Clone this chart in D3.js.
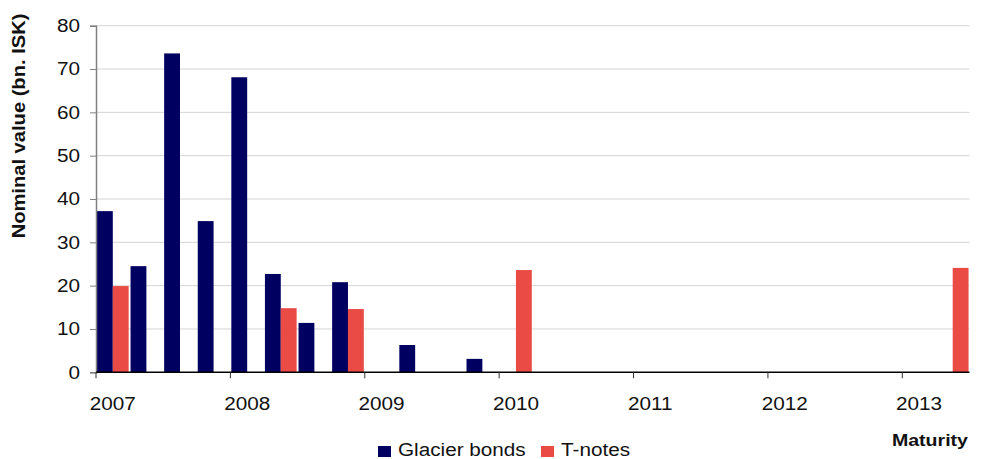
<!DOCTYPE html>
<html>
<head>
<meta charset="utf-8">
<script src="https://cdn.jsdelivr.net/npm/d3@7"></script>
<style>
  html, body { margin: 0; padding: 0; background: #fff; }
  svg { display: block; font-family: "Liberation Sans", Arial, sans-serif; }
</style>
</head>
<body>
<svg id="chart" width="983" height="459"></svg>
<script>
// Quarterly maturity buckets, 2007 Q1 through 2013 Q2
const quarters = [];
for (let yr = 2007; yr <= 2013; yr++) {
  for (let q = 1; q <= 4; q++) {
    if (yr === 2013 && q > 2) break;
    quarters.push(yr + "Q" + q);
  }
}
const seriesNames = ["Glacier bonds", "T-notes"];
const seriesColors = ["#000060", "#EA4B45"];

// Nominal value in bn. ISK maturing per quarter
const glacierBonds = {
  "2007Q1": 37.2, "2007Q2": 24.5, "2007Q3": 73.6, "2007Q4": 34.9,
  "2008Q1": 68.1, "2008Q2": 22.7, "2008Q3": 11.4, "2008Q4": 20.8,
  "2009Q2": 6.3, "2009Q4": 3.1
};
const tNotes = {
  "2007Q1": 19.9, "2008Q2": 14.8, "2008Q4": 14.6,
  "2010Q1": 23.6, "2013Q2": 24.1
};
const yTicks = [0, 10, 20, 30, 40, 50, 60, 70, 80];
const yearLabels = ["2007", "2008", "2009", "2010", "2011", "2012", "2013"];

const svg = d3.select("#chart");
const plotLeft = 96, plotRight = 969.5, plotTop = 25.7, plotBottom = 372.3;

// Widen the glyphs a little so labels keep the wide set of the original typeface
function widen(sel, k = 1.15) {
  sel.each(function () {
    const L = this.getComputedTextLength();
    d3.select(this).attr("textLength", L * k).attr("lengthAdjust", "spacingAndGlyphs");
  });
}

const x = d3.scaleBand().domain(quarters).range([plotLeft, plotRight]).padding(0);
const xs = d3.scaleBand().domain(seriesNames).range([0, x.bandwidth()])
  .paddingInner(0).paddingOuter(0.06);
const y = d3.scaleLinear().domain([0, 80]).range([plotBottom, plotTop]);

// Horizontal gridlines
svg.append("g").selectAll("line")
  .data(yTicks.filter(d => d > 0))
  .join("line")
  .attr("x1", plotLeft).attr("x2", plotRight)
  .attr("y1", d => y(d)).attr("y2", d => y(d))
  .attr("stroke", "#d4d4d4").attr("stroke-width", 1);

// Bars
const rows = quarters.map(q => ({
  q,
  vals: [
    { s: seriesNames[0], v: glacierBonds[q] },
    { s: seriesNames[1], v: tNotes[q] }
  ].filter(d => d.v != null)
}));
const color = d3.scaleOrdinal().domain(seriesNames).range(seriesColors);

svg.append("g").selectAll("g")
  .data(rows)
  .join("g")
  .attr("transform", d => `translate(${x(d.q)},0)`)
  .selectAll("rect")
  .data(d => d.vals)
  .join("rect")
  .attr("x", d => xs(d.s))
  .attr("width", xs.bandwidth())
  .attr("y", d => y(d.v))
  .attr("height", d => y(0) - y(d.v))
  .attr("fill", d => color(d.s));

// Y axis
const yAxis = svg.append("g")
  .attr("transform", `translate(${plotLeft},0)`)
  .call(d3.axisLeft(y).tickValues(yTicks).tickSize(6).tickPadding(10));
yAxis.select(".domain").attr("stroke", "#808080").attr("stroke-width", 1.5);
yAxis.selectAll(".tick line").attr("stroke", "#808080");
yAxis.selectAll("text")
  .attr("font-size", 18).attr("fill", "#111")
  .attr("font-family", "Liberation Sans, Arial, sans-serif")
  .call(widen);

// X axis: tick marks at year boundaries, labels on first quarter of each year
const xAxisG = svg.append("g").attr("transform", `translate(0,${plotBottom})`);
xAxisG.append("line")
  .attr("x1", plotLeft).attr("x2", plotRight)
  .attr("stroke", "#000").attr("stroke-width", 1.5);
const yearStarts = quarters.filter(q => q.endsWith("Q1"));
xAxisG.selectAll("line.tk")
  .data(yearStarts)
  .join("line")
  .attr("class", "tk")
  .attr("x1", d => x(d)).attr("x2", d => x(d))
  .attr("y1", 0).attr("y2", 6)
  .attr("stroke", "#333").attr("stroke-width", 1);
xAxisG.selectAll("text")
  .data(yearStarts)
  .join("text")
  .attr("x", d => x(d) + x.bandwidth() / 2)
  .attr("y", 38)
  .attr("text-anchor", "middle")
  .attr("font-size", 18).attr("fill", "#111")
  .text((d, i) => yearLabels[i])
  .call(widen);

// Axis titles
svg.append("text")
  .attr("transform", `translate(25,${(15 + 237) / 2}) rotate(-90)`)
  .attr("text-anchor", "middle")
  .attr("font-size", 17.5).attr("font-weight", "bold").attr("fill", "#111")
  .text("Nominal value (bn. ISK)")
  .call(widen);

svg.append("text")
  .attr("x", 968).attr("y", 446)
  .attr("text-anchor", "end")
  .attr("font-size", 17).attr("font-weight", "bold").attr("fill", "#111")
  .text("Maturity")
  .call(widen);

// Legend
const legend = svg.append("g");
const legendItems = [
  { name: seriesNames[0], x: 378 },
  { name: seriesNames[1], x: 541 }
];
legendItems.forEach(it => {
  legend.append("rect")
    .attr("x", it.x).attr("y", 446)
    .attr("width", 13).attr("height", 11)
    .attr("fill", color(it.name));
  legend.append("text")
    .attr("x", it.x + 20).attr("y", 456)
    .attr("font-size", 18).attr("fill", "#111")
    .text(it.name)
    .call(widen);
});
</script>
</body>
</html>
